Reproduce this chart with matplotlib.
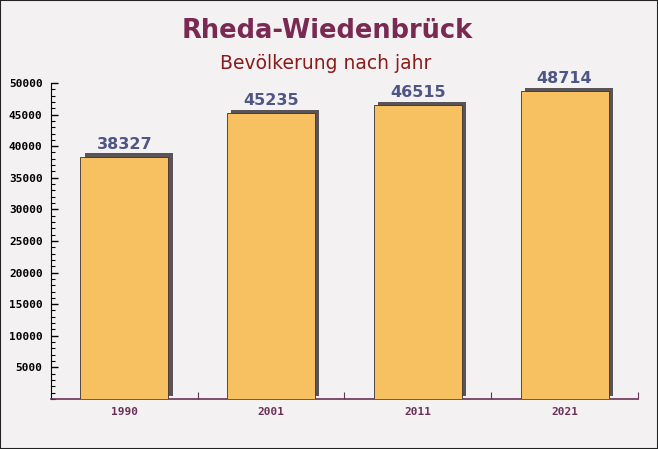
import matplotlib
matplotlib.use("Agg")
import matplotlib.pyplot as plt
import matplotlib.patheffects as pe
from matplotlib.ticker import MultipleLocator

# data
years = ["1990", "2001", "2011", "2021"]
population = [38327, 45235, 46515, 48714]

title = "Rheda-Wiedenbrück"
subtitle = "Bevölkerung nach jahr"

bg = "#f4f1f2"
bar_color = "#f7c060"
label_color = "#4f5585"
axis_purple = "#6b3058"

fig = plt.figure(figsize=(6.58, 4.49), dpi=100, facecolor=bg)
ax = fig.add_axes([0.0775, 0.1114, 0.892, 0.7038])
ax.set_facecolor("none")

x = range(len(years))
bars = ax.bar(x, population, width=0.6, color=bar_color, edgecolor="#3a3030",
              linewidth=0.6, zorder=3)
for b in bars:
    b.set_path_effects([pe.SimplePatchShadow(offset=(3, 2.5), shadow_rgbFace="#5a5458", alpha=1.0),
                        pe.Normal()])

for xi, v in zip(x, population):
    ax.annotate(str(v), (xi, v), xytext=(0, 3.5), textcoords="offset points",
                ha="center", va="bottom", fontsize=11.5, fontweight="bold",
                color=label_color, zorder=4)

ax.set_xlim(-0.5, len(years) - 0.5)
ax.set_ylim(0, 50000)

ax.set_yticks(range(5000, 50001, 5000))
ax.yaxis.set_minor_locator(MultipleLocator(1000))
ax.tick_params(axis="y", which="major", direction="in", length=5, width=1,
               color="black", labelsize=8, pad=6)
ax.tick_params(axis="y", which="minor", direction="in", length=3, width=0.8,
               color="black")
for lab in ax.get_yticklabels():
    lab.set_family("DejaVu Sans Mono")
    lab.set_fontweight("bold")

ax.set_xticks(list(x))
ax.set_xticklabels(years, family="DejaVu Sans Mono", fontweight="bold",
                   fontsize=8, color=axis_purple)
ax.tick_params(axis="x", which="major", length=0, pad=6)
ax.set_xticks([i + 0.5 for i in x], minor=True)
ax.tick_params(axis="x", which="minor", direction="in", length=5,
               width=0.8, color=axis_purple)

ax.spines["top"].set_visible(False)
ax.spines["right"].set_visible(False)
ax.spines["left"].set_color("black")
ax.spines["bottom"].set_color(axis_purple)
ax.spines["bottom"].set_linewidth(1.2)

fig.text(0.498, 0.93, title, ha="center", va="center", fontsize=18.5,
         fontweight="bold", color="#7a2a52")
fig.text(0.495, 0.858, subtitle, ha="center", va="center", fontsize=13.5,
         color="#8b1a1a")

# thin frame around the picture
fig.patches.append(plt.Rectangle((0, 0), 1, 1, transform=fig.transFigure,
                                 fill=False, edgecolor="#222222", linewidth=1.5))

fig.savefig("out.png", dpi=100, facecolor=bg)
